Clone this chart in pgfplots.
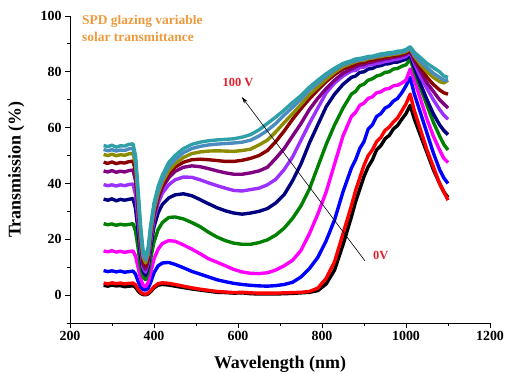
\documentclass[border=0pt]{standalone}
\usepackage{pgfplots}
\pgfplotsset{compat=1.18}
\usepackage{pgfplotstable}
\usepackage{fontspec}
\setmainfont{Liberation Serif}
\usetikzlibrary{arrows.meta}
\definecolor{cviolet}{HTML}{9B30FF}
\definecolor{cpurple}{HTML}{800080}
\definecolor{cwine}{HTML}{8B0000}
\definecolor{colive}{HTML}{8C8C00}
\definecolor{csteel}{HTML}{4A8CC0}
\definecolor{cteal}{HTML}{30A0A8}
\definecolor{cgreen}{HTML}{008000}
\definecolor{cnavy}{HTML}{000080}
\definecolor{cmag}{HTML}{FF00FF}
\definecolor{cred}{HTML}{FF0000}
\definecolor{cblue}{HTML}{0000FF}
\definecolor{corange}{HTML}{EE9A3C}
\definecolor{clabel}{HTML}{E0202C}

\pgfplotstableread{
x k r b m g n v p w o s t
280 3.5 4.3 8.8 15.8 25.6 34.4 39.6 44.5 47.6 50.4 52.2 53.6
290 3.2 4.0 8.4 15.5 25.2 34.0 39.2 44.1 47.2 50.0 51.7 53.2
300 3.6 4.4 8.7 15.9 25.5 34.5 39.5 44.6 47.7 50.5 52.1 53.7
310 3.3 4.1 8.3 15.4 25.0 33.8 39.1 44.0 47.1 49.9 51.6 53.0
320 3.4 4.3 8.6 15.7 25.4 34.3 39.5 44.4 47.5 50.3 52.0 53.5
330 3.0 4.0 8.2 15.3 25.1 34.0 39.2 44.1 47.3 50.1 51.8 53.4
340 3.2 4.2 8.4 15.6 25.3 34.3 39.6 44.6 47.8 50.6 52.4 54.0
350 3.3 4.3 8.6 15.8 25.6 34.6 39.8 44.8 48.0 50.8 52.6 54.2
356 2.8 3.7 7.5 14.0 23.0 31.0 36.0 41.0 44.5 47.0 48.5 50.0
362 1.5 2.2 5.0 10.0 17.0 23.0 27.0 31.0 33.0 35.0 36.5 38.0
368 0.6 1.0 3.0 6.0 10.0 14.0 16.5 19.0 20.5 22.0 23.5 25.0
374 0.2 0.5 2.0 3.5 6.5 8.5 9.8 11.0 12.3 13.5 14.5 16.0
380 0.1 0.3 1.8 3.0 5.5 7.0 8.2 9.2 10.3 11.5 12.5 14.0
386 0.4 0.7 2.5 4.5 8.0 10.0 11.3 12.5 13.5 14.5 15.5 17.0
392 1.2 1.6 4.5 8.0 13.0 17.0 19.0 20.5 21.5 22.5 23.5 25.0
400 2.6 3.0 8.0 13.0 19.0 24.5 27.0 28.5 29.5 30.5 31.5 33.0
410 3.6 4.1 10.5 16.5 23.5 29.5 33.0 34.5 35.5 36.5 37.5 39.0
420 3.8 4.4 11.5 18.5 26.0 32.5 36.5 38.5 39.5 40.5 41.5 43.0
435 3.6 4.2 11.7 19.5 27.8 34.8 39.5 42.0 43.5 44.5 46.0 47.5
450 3.2 3.8 11.0 19.3 28.0 35.9 41.3 44.3 45.8 47.0 48.5 50.0
470 2.7 3.2 9.8 18.0 27.3 36.3 42.3 45.8 47.6 49.3 51.0 52.5
490 2.2 2.6 8.5 16.5 26.0 35.6 42.2 46.3 48.5 50.7 52.5 54.0
510 1.8 2.1 7.5 14.8 24.5 34.2 41.3 46.0 48.7 51.3 53.3 54.8
530 1.4 1.7 6.5 13.0 22.5 32.7 40.2 45.3 48.5 51.6 53.8 55.3
550 1.0 1.3 5.5 11.8 20.8 31.3 39.2 44.5 48.2 51.7 54.1 55.6
570 0.9 1.1 4.8 10.5 19.5 30.2 38.3 43.8 47.9 51.6 54.3 55.8
590 0.7 0.9 4.2 9.2 18.6 29.4 37.5 43.3 47.9 51.5 54.5 56.0
610 0.8 1.0 3.8 8.3 18.2 29.0 37.3 43.3 48.3 51.8 54.8 56.6
630 0.5 0.8 3.5 7.8 18.2 29.4 37.8 43.8 49.0 52.3 55.5 57.5
650 0.4 0.7 3.3 7.7 18.8 30.0 38.3 44.5 50.0 53.8 57.0 59.2
670 0.4 0.7 3.2 8.0 19.8 31.0 39.5 45.8 51.8 55.5 59.0 61.5
690 0.4 0.7 3.4 9.0 21.5 33.0 41.5 49.0 55.0 58.5 61.5 63.8
710 0.5 0.8 3.8 10.5 24.0 36.0 45.0 52.5 58.8 61.8 64.5 66.3
730 0.6 0.9 4.6 12.5 27.5 41.0 49.5 57.0 63.0 65.0 67.3 69.0
750 0.8 1.0 6.5 16.0 32.0 47.0 55.5 61.5 66.8 68.3 70.2 71.5
770 1.0 1.3 9.5 22.0 38.0 54.5 61.5 66.5 70.3 71.8 73.5 74.5
790 1.6 2.5 13.5 29.0 46.0 61.0 67.0 70.5 73.5 74.5 76.0 77.0
810 4.0 6.0 19.5 37.0 54.0 67.5 72.5 74.0 76.5 77.3 78.5 79.3
830 9.0 12.0 27.0 47.0 61.0 72.0 76.0 77.0 79.0 79.8 80.7 81.3
850 18.0 22.0 37.0 57.0 67.0 75.5 78.5 79.5 81.0 81.8 82.5 83.0
870 28.0 32.0 45.5 64.0 72.0 78.0 80.3 81.0 82.0 83.0 83.5 84.0
880 33.5 37.5 48.5 65.5 73.0 78.5 80.5 81.8 82.8 83.6 84.0 84.6
890 38.0 42.0 52.5 68.0 75.0 79.8 81.5 82.4 83.2 84.0 84.3 84.8
900 42.5 46.5 55.0 68.8 75.6 80.0 81.7 82.6 83.4 84.1 84.5 85.1
910 46.0 50.0 59.5 70.5 77.0 81.0 82.5 83.3 84.0 84.7 85.0 85.5
920 48.5 52.0 61.0 71.0 77.5 81.2 82.5 83.5 84.2 84.9 85.2 85.6
930 52.0 55.0 64.0 72.5 78.5 82.0 83.0 84.0 84.6 85.3 85.6 86.0
940 53.5 56.5 65.0 72.8 78.9 82.2 83.2 84.2 84.8 85.4 85.8 86.4
950 56.0 59.0 67.0 73.8 79.8 82.8 83.7 84.6 85.2 85.8 86.2 86.6
960 57.2 60.2 67.8 74.0 80.0 82.9 83.9 84.8 85.4 85.9 86.3 86.9
970 59.5 62.0 69.5 75.0 81.0 83.4 84.3 85.2 85.7 86.3 86.6 87.0
980 60.8 63.5 70.5 75.2 81.2 83.5 84.5 85.4 85.9 86.4 86.8 87.4
990 63.0 66.0 72.5 76.0 82.0 84.0 85.0 85.8 86.3 86.8 87.1 87.5
1000 65.0 68.5 75.0 77.0 82.5 84.5 85.5 86.3 86.8 87.2 87.6 88.0
1010 68.0 72.0 78.0 81.0 84.5 86.0 87.0 87.5 88.0 88.3 88.5 89.0
1020 63.0 66.0 72.0 77.0 80.0 81.5 83.0 84.0 85.0 85.5 86.0 87.0
1035 57.0 59.0 65.0 70.0 74.0 75.5 78.0 80.0 81.5 82.5 83.5 85.0
1050 51.0 52.0 58.0 63.0 68.0 70.0 74.0 76.0 78.0 80.0 81.5 83.0
1065 45.0 46.0 51.0 57.0 62.0 65.0 70.0 73.0 75.5 78.0 79.5 81.5
1080 40.0 40.0 45.0 52.0 57.0 61.0 66.5 70.0 73.5 76.5 78.0 80.0
1090 37.0 37.0 42.0 49.0 54.0 59.0 64.5 68.5 72.5 76.0 77.0 78.5
1100 35.0 34.0 40.0 47.5 52.0 57.5 63.0 67.0 72.0 77.0 77.0 78.0
}\data

\begin{document}
\begin{tikzpicture}
\path[use as bounding box] (-70bp,-51bp) rectangle (440bp,323bp);
\begin{axis}[
  scale only axis, width=420bp, height=307bp,
  xmin=200, xmax=1200, ymin=-10, ymax=100,
  axis lines=left, axis line style={-, line width=1pt},
  xtick={200,400,...,1200}, ytick={0,20,...,100},
  minor xtick={300,500,...,1100}, minor ytick={-10,10,...,90},
  tick align=outside, major tick length=5bp, minor tick length=3bp,
  every tick/.style={black, line width=1pt},
  tick label style={font=\fontsize{14}{14}\selectfont\bfseries},
  /pgf/number format/assume math mode=true,
  /pgf/number format/1000 sep={},
  xlabel={Wavelength (nm)}, ylabel={Transmission (\%)},
  label style={font=\fontsize{18}{18}\selectfont\bfseries},
  xlabel style={at={(axis description cs:0.5,-0.135)}, anchor=center},
  ylabel style={at={(axis description cs:-0.128,0.5)}, anchor=center},
  every axis plot/.append style={line width=3.4pt, line join=round, no markers},
]
\addplot[black] table[x=x,y=k]{\data};
\addplot[cred] table[x=x,y=r]{\data};
\addplot[cblue] table[x=x,y=b]{\data};
\addplot[cmag] table[x=x,y=m]{\data};
\addplot[cgreen] table[x=x,y=g]{\data};
\addplot[cnavy] table[x=x,y=n]{\data};
\addplot[cviolet] table[x=x,y=v]{\data};
\addplot[cpurple] table[x=x,y=p]{\data};
\addplot[cwine] table[x=x,y=w]{\data};
\addplot[colive] table[x=x,y=o]{\data};
\addplot[csteel] table[x=x,y=s]{\data};
\addplot[cteal] table[x=x,y=t]{\data};
\draw[-{Stealth[length=7bp,width=4bp]}, line width=0.6pt] (axis cs:902,12.3) -- (axis cs:609,71);
\node[text=clabel, font=\fontsize{12.5}{12.5}\selectfont\bfseries] at (axis cs:600,76.3) {100 V};
\node[text=clabel, font=\fontsize{12.5}{12.5}\selectfont\bfseries] at (axis cs:940,14.1) {0V};
\node[anchor=north west, align=left, text=corange, inner sep=0pt,
      font=\fontsize{13.5}{16.6}\selectfont\bfseries] at (axis cs:228.5,100.3) {SPD glazing variable\\solar transmittance};
\end{axis}
\end{tikzpicture}
\end{document}
